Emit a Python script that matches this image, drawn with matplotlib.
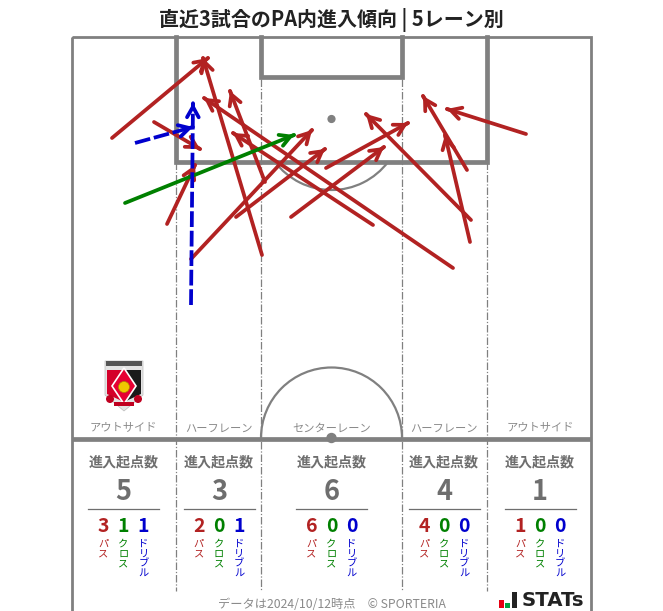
#!/usr/bin/env python3

import matplotlib.pyplot as plt
from matplotlib.patches import Arc, Circle, Polygon, Rectangle

plt.rcParams["font.family"] = ["Noto Sans CJK JP", "DejaVu Sans"]

COL_RED = "#b22222"
COL_GREEN = "#008000"
COL_BLUE = "#0000cd"
COL_PITCH = "#808080"
COL_TEXT = "#6e6e6e"

# arrows, in picture pixels: start x, start y, end x, end y
PASS_X0 = [112, 262, 154, 167, 191, 265, 236, 373, 453, 291, 326, 471, 467, 470, 526]
PASS_Y0 = [138, 255, 122, 224, 259, 182, 217, 225, 268, 217, 168, 220, 170, 242, 134]
PASS_X1 = [208, 203, 200, 195, 312, 230, 325, 233, 204, 384, 408, 366, 423, 445, 447]
PASS_Y1 = [58, 58, 149, 165, 130, 91, 149, 133, 98, 147, 123, 114, 96, 135, 109]
CROSS_X0 = [125]
CROSS_Y0 = [203]
CROSS_X1 = [294]
CROSS_Y1 = [135]
DRIBBLE_X0 = [191, 135]
DRIBBLE_Y0 = [305, 143]
DRIBBLE_X1 = [193, 193]
DRIBBLE_Y1 = [103, 127]

LANE_NAMES = ["アウトサイド", "ハーフレーン", "センターレーン", "ハーフレーン", "アウトサイド"]
LANE_CENTERS = [123.5, 219, 331.5, 444, 540]
LANE_TOTALS = [5, 3, 6, 4, 1]
LANE_PASS = [3, 2, 6, 4, 1]
LANE_CROSS = [1, 0, 0, 0, 0]
LANE_DRIBBLE = [1, 1, 0, 0, 0]


def draw_head(ax, xa, ya, xb, yb, color):
    # solid head only, from a point just behind the tip
    ax.annotate(
        "",
        xy=(xb, yb),
        xytext=(xb - (xb - xa) * 0.001, yb - (yb - ya) * 0.001),
        zorder=5,
        arrowprops=dict(
            arrowstyle="->,head_length=0.75,head_width=0.42",
            color=color,
            lw=2.7,
            shrinkA=0,
            shrinkB=0,
        ),
    )


def draw_arrows(ax, x0, y0, x1, y1, color, dashed=False):
    for xa, ya, xb, yb in zip(x0, y0, x1, y1):
        ls = (0, (4.2, 1.0)) if dashed else "-"
        ax.plot([xa, xb], [ya, yb], color=color, lw=2.7, ls=ls, zorder=5, dash_capstyle="butt", solid_capstyle="round")
        draw_head(ax, xa, ya, xb, yb, color)


def draw_pitch(ax):
    ax.add_patch(Rectangle((71.5, 37), 519.5, 600, fill=False, ec=COL_PITCH, lw=2))
    ax.plot([175.5, 175.5, 486.5, 486.5], [37, 162, 162, 37], color=COL_PITCH, lw=3.4, solid_joinstyle="miter")
    ax.plot([260.5, 260.5, 402, 402], [37, 77, 77, 37], color=COL_PITCH, lw=3.4, solid_joinstyle="miter")
    ax.plot([72, 591], [438.5, 438.5], color=COL_PITCH, lw=3.4, solid_capstyle="butt")
    for x, top in [(176, 162), (260.5, 79), (402, 79), (486.5, 162)]:
        ax.plot([x, x], [top, 591], color=COL_PITCH, lw=0.9, ls=(0, (6, 1.5, 1, 1.5)), zorder=1)
    ax.add_patch(Arc((331.5, 438), 141, 141, theta1=180, theta2=360, ec=COL_PITCH, lw=1.6))
    ax.add_patch(Arc((331.5, 119), 142, 142, theta1=37, theta2=143, ec=COL_PITCH, lw=1.6))
    ax.add_patch(Circle((331.5, 119), 3.4, color=COL_PITCH))
    ax.add_patch(Circle((331.5, 438), 4.5, color=COL_PITCH))


def draw_crest(ax):
    # rough club crest
    ax.add_patch(Polygon([(105, 361), (143, 361), (143, 395), (124, 411), (105, 395)], fc="#e4e4e4", ec="#bbbbbb", lw=0.5))
    ax.add_patch(Rectangle((106, 361), 36, 5, fc="#555555", ec="none"))
    ax.add_patch(Polygon([(107, 370), (124, 370), (124, 402), (107, 394)], fc="#d4002a", ec="none"))
    ax.add_patch(Polygon([(124, 370), (141, 370), (141, 394), (124, 402)], fc="#1a1a1a", ec="none"))
    ax.add_patch(Polygon([(124, 368), (136, 386), (124, 404), (112, 386)], fc="#e60033", ec="white", lw=1.2))
    ax.add_patch(Circle((124, 387), 5.5, fc="#f0c800", ec="#b08000", lw=0.5))
    ax.add_patch(Circle((110, 399), 4, fc="#c00020", ec="none"))
    ax.add_patch(Circle((138, 399), 4, fc="#c00020", ec="none"))
    ax.add_patch(Rectangle((114, 402), 20, 4, fc="#c00020", ec="none"))


def draw_lane_stats(ax):
    for name, cx, total, n_pass, n_cross, n_drib in zip(
        LANE_NAMES, LANE_CENTERS, LANE_TOTALS, LANE_PASS, LANE_CROSS, LANE_DRIBBLE
    ):
        ax.text(cx, 428.5, name, ha="center", va="center", fontsize=8.1, color="#8a8a8a")
        ax.text(cx, 462, "進入起点数", ha="center", va="center", fontsize=10.1, color=COL_TEXT, fontweight="bold")
        ax.text(cx, 491.5, str(total), ha="center", va="center", fontsize=19.5, color=COL_TEXT, fontweight="bold")
        ax.plot([cx - 35.5, cx + 35.5], [508.5, 508.5], color=COL_TEXT, lw=0.9)
        cols = [
            (-20, n_pass, "パス", COL_RED),
            (0, n_cross, "クロス", COL_GREEN),
            (20, n_drib, "ドリブル", COL_BLUE),
        ]
        for dx, val, label, color in cols:
            ax.text(cx + dx, 526, str(val), ha="center", va="center", fontsize=14, color=color, fontweight="bold")
            ax.text(cx + dx, 539, "\n".join(label), ha="center", va="top", fontsize=7.4, color=color, linespacing=0.95)


if __name__ == "__main__":
    fig = plt.figure(figsize=(6.63, 6.11), dpi=100)
    ax = fig.add_axes([0, 0, 1, 1])
    ax.set_xlim(0, 663)
    ax.set_ylim(611, 0)
    ax.axis("off")

    draw_pitch(ax)
    draw_crest(ax)
    draw_lane_stats(ax)
    draw_arrows(ax, PASS_X0, PASS_Y0, PASS_X1, PASS_Y1, COL_RED)
    draw_arrows(ax, CROSS_X0, CROSS_Y0, CROSS_X1, CROSS_Y1, COL_GREEN)
    draw_arrows(ax, DRIBBLE_X0, DRIBBLE_Y0, DRIBBLE_X1, DRIBBLE_Y1, COL_BLUE, dashed=True)

    ax.text(331, 19.5, "直近3試合のPA内進入傾向 | 5レーン別", ha="center", va="center", fontsize=14.4, fontweight="bold", color="#222222")
    ax.text(331.5, 604, "データは2024/10/12時点　© SPORTERIA", ha="center", va="center", fontsize=8.8, color="#8a8a8a")

    # STATS logo
    ax.add_patch(Rectangle((499, 600), 5, 8, fc="#e60012", ec="none"))
    ax.add_patch(Rectangle((505, 603), 5, 5, fc="#00a040", ec="none"))
    ax.add_patch(Rectangle((512, 592), 5, 16, fc="#222222", ec="none"))
    ax.text(522, 600.5, "STATs", ha="left", va="center", fontsize=14.2, fontweight="bold", color="#222222", family="DejaVu Sans")

    plt.savefig("out.png", dpi=100)
    plt.close(fig)
